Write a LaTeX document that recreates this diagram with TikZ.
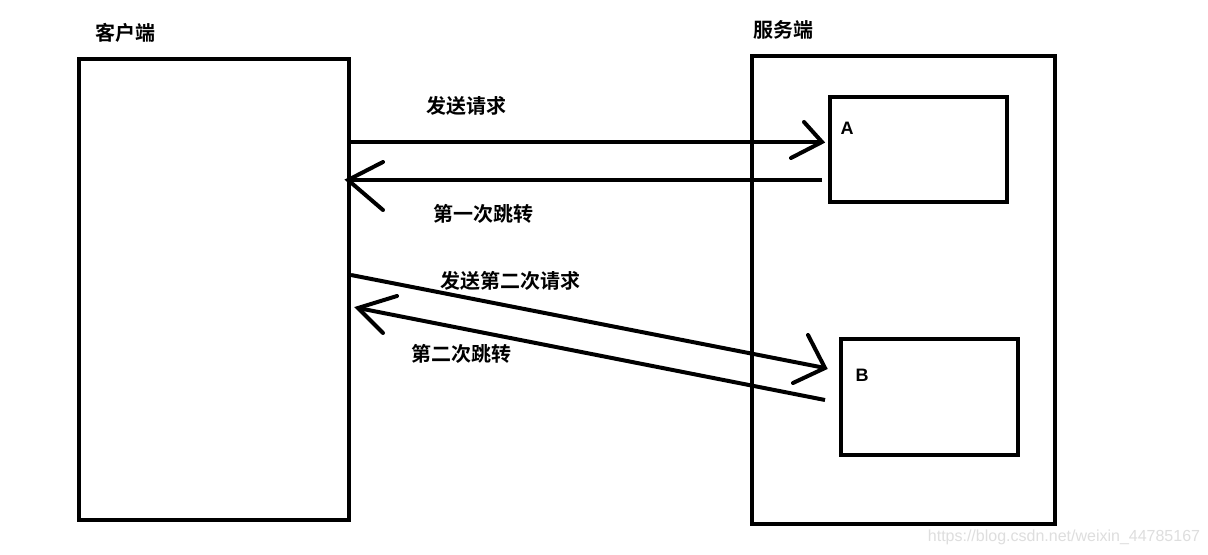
\documentclass[tikz,border=0pt]{standalone}
\usepackage{fontspec}
\newfontfamily\cjk{Noto Sans CJK SC}[BoldFont={* Bold}]
\setsansfont{Liberation Sans}
\begin{document}
\begin{tikzpicture}[x=0.75pt,y=-0.75pt,
  frame/.style={draw=black,line width=3pt,minimum width=#1,inner sep=0pt,outer sep=0pt},
  label/.style={font=\cjk\bfseries\fontsize{15pt}{17pt}\selectfont,inner sep=0pt},
  tag/.style={font=\sffamily\bfseries\fontsize{13.5pt}{15pt}\selectfont,inner sep=0pt},
  wire/.style={line width=3pt},
  barb/.style={line width=3pt,line cap=round,line join=miter}]
\useasboundingbox[fill=white] (0,0) rectangle (1208,555);

% the two sides
\node[frame=202.5pt,minimum height=345.75pt,anchor=north west] (client) at (79,59.5) {};
\node[frame=227.25pt,minimum height=351pt,anchor=north west] (server) at (752,56) {};
% handlers on the server
\node[frame=132.75pt,minimum height=78.75pt,anchor=north west] (boxA) at (830,97) {};
\node[frame=132.75pt,minimum height=87pt,anchor=north west] (boxB) at (841,339) {};

% titles
\node[label] (tclient) at (125,33) {客户端};
\node[label] (tserver) at (783,30) {服务端};
\node[tag] (ta) at (847,128) {A};
\node[tag] (tb) at (862,375) {B};

% end points of the requests and redirects
\coordinate (r1s) at (349.5,142);
\coordinate (r1e) at (822,142);
\coordinate (r1u) at (804,122);
\coordinate (r1d) at (791,158);

\coordinate (j1s) at (822,180);
\coordinate (j1e) at (348,180);
\coordinate (j1u) at (383,162);
\coordinate (j1d) at (383,210);

\coordinate (r2s) at (351,275);
\coordinate (r2e) at (825,368);
\coordinate (r2u) at (808,335);
\coordinate (r2d) at (793,383);

\coordinate (j2s) at (825,400);
\coordinate (j2e) at (358,308);
\coordinate (j2u) at (397,296);
\coordinate (j2d) at (383,333);

% first request and first redirect
\draw[wire] (r1s) -- (r1e);
\draw[barb] (r1u) -- (r1e) -- (r1d);
\draw[wire] (j1s) -- (j1e);
\draw[barb] (j1u) -- (j1e) -- (j1d);

% second request and second redirect
\draw[wire] (r2s) -- (r2e);
\draw[barb] (r2u) -- (r2e) -- (r2d);
\draw[wire] (j2s) -- (j2e);
\draw[barb] (j2u) -- (j2e) -- (j2d);

% arrow captions
\node[label] (l1) at (466,106) {发送请求};
\node[label] (l2) at (483,214) {第一次跳转};
\node[label] (l3) at (510,281) {发送第二次请求};
\node[label] (l4) at (461,354) {第二次跳转};

% address line in the corner
\node[font=\sffamily\fontsize{12pt}{14pt}\selectfont,text=black!13,inner sep=0pt] (url) at (1064,537) {https://blog.csdn.net/weixin\_44785167};
\end{tikzpicture}
\end{document}
